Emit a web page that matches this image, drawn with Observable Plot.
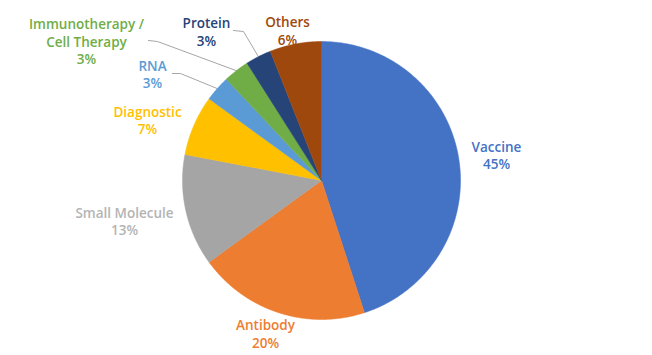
<!DOCTYPE html>
<html><head><meta charset="utf-8">
<script src="https://cdn.jsdelivr.net/npm/d3@7"></script>
<script src="https://cdn.jsdelivr.net/npm/@observablehq/plot@0.6"></script>
<style>body{margin:0;background:#fff}</style>
</head><body><div id="chart"></div>
<script>
// ---- data ----
const categories = ["Vaccine", "Antibody", "Small Molecule", "Diagnostic", "RNA", "Immunotherapy /\nCell Therapy", "Protein", "Others"];
const values = [45, 20, 13, 7, 3, 3, 3, 6];
const percentLabels = ["45%", "20%", "13%", "7%", "3%", "3%", "3%", "6%"];
const colors = ["#4472C4", "#ED7D31", "#A5A5A5", "#FFC000", "#5B9BD5", "#70AD47", "#264478", "#9E480E"];
const textColors = ["#4472C4", "#ED7D31", "#B4B4B4", "#FFC000", "#5B9BD5", "#70AD47", "#264478", "#9E480E"];

// ---- layout (pixel offsets from pie centre, y up) ----
const W = 652, H = 355, CX = 321, CY = 180, R = 139;
const labelPos = [[175, 25.5], [-56, -153], [-197, -40.5], [-174, 60.5], [-169, 106.5], [-235, 139.5], [-115, 149], [-34, 150]];
const leaderKnees = {4: [[-149, 107], [-141, 107]], 5: [[-173, 140], [-164, 139]], 6: [[-88, 150], [-78, 149]]};

const arcs = d3.pie().sort(null).value(d => d)(values);
const pt = (a, r) => [r * Math.sin(a), r * Math.cos(a)];

const slicePts = [];
arcs.forEach((a, i) => {
  slicePts.push({cat: categories[i], x: 0, y: 0});
  const n = Math.max(2, Math.ceil((a.endAngle - a.startAngle) / (Math.PI / 360)));
  for (let k = 0; k <= n; k++) {
    const t = a.startAngle + (a.endAngle - a.startAngle) * k / n;
    const [x, y] = pt(t, R);
    slicePts.push({cat: categories[i], x, y});
  }
  slicePts.push({cat: categories[i], x: 0, y: 0});
});

const labels = categories.map((c, i) => ({
  text: c + "\n" + percentLabels[i], x: labelPos[i][0], y: labelPos[i][1], color: textColors[i]
}));

const leaders = [];
Object.entries(leaderKnees).forEach(([i, knees]) => {
  const a = arcs[i];
  const mid = (a.startAngle + a.endAngle) / 2;
  knees.forEach(([x, y]) => leaders.push({id: i, x, y}));
  const [x, y] = pt(mid, R);
  leaders.push({id: i, x, y});
});

const chart = Plot.plot({
  width: W, height: H,
  margin: 0,
  x: {domain: [-CX, W - CX], range: [0, W], axis: null},
  y: {domain: [-(H - CY), CY], range: [H, 0], axis: null},
  color: {domain: categories, range: colors},
  style: {fontFamily: "'Open Sans', sans-serif", background: "#fff"},
  marks: [
    Plot.line(leaders, {x: "x", y: "y", z: "id", stroke: "#A6A6A6", strokeWidth: 1}),
    Plot.line(slicePts, {x: "x", y: "y", z: "cat", fill: "cat", stroke: "cat", strokeWidth: 0.5}),
    Plot.text(labels, {x: "x", y: "y", text: "text", fill: "color", fontSize: 13.5, fontWeight: 600, lineHeight: 1.29, textAnchor: "middle", lineAnchor: "middle"})
  ]
});
document.getElementById("chart").appendChild(chart);
</script>
</body></html>
